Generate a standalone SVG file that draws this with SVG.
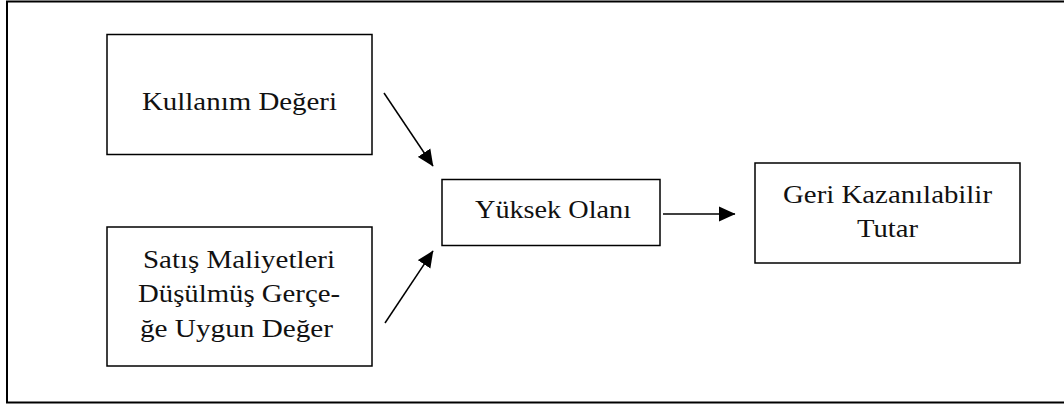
<svg xmlns="http://www.w3.org/2000/svg" width="1064" height="408" viewBox="0 0 1064 408">
<style>
.frame{fill:none;stroke:#000;stroke-width:2}
.box{fill:#fff;stroke:#000;stroke-width:1.5}
.t{font-family:"Liberation Serif","DejaVu Serif",serif;font-size:25px;fill:#111;text-anchor:middle}
.c{stroke:#000;stroke-width:1.5;fill:none;marker-end:url(#ah)}
</style>
<defs>
<marker id="ah" markerWidth="17" markerHeight="16" refX="16" refY="8" orient="auto" markerUnits="userSpaceOnUse">
<path d="M0,0.5 L16.5,8 L0,15.5 Z" fill="#000"/>
</marker>
</defs>
<rect width="1064" height="408" fill="#fff"/>
<rect class="frame" x="7" y="1.5" width="1062" height="401"/>
<g id="kullanim">
<rect class="box" x="107" y="34.5" width="265" height="120"/>
<text class="t" x="239.5" y="110" textLength="195" lengthAdjust="spacingAndGlyphs">Kullanım Değeri</text>
</g>
<g id="satis">
<rect class="box" x="107" y="227" width="265" height="139"/>
<text class="t" x="239" y="268" textLength="192" lengthAdjust="spacingAndGlyphs">Satış Maliyetleri</text>
<text class="t" x="239" y="302" textLength="202" lengthAdjust="spacingAndGlyphs">Düşülmüş Gerçe-</text>
<text class="t" x="236.5" y="337" textLength="193" lengthAdjust="spacingAndGlyphs">ğe Uygun Değer</text>
</g>
<g id="yuksek">
<rect class="box" x="442" y="179.5" width="218" height="66"/>
<text class="t" x="553" y="218" textLength="156" lengthAdjust="spacingAndGlyphs">Yüksek Olanı</text>
</g>
<g id="geri">
<rect class="box" x="755" y="163" width="265" height="100"/>
<text class="t" x="887.5" y="203" textLength="209" lengthAdjust="spacingAndGlyphs">Geri Kazanılabilir</text>
<text class="t" x="887.5" y="237" textLength="61" lengthAdjust="spacingAndGlyphs">Tutar</text>
</g>
<g id="connectors">
<line class="c" x1="384" y1="93" x2="433" y2="166"/>
<line class="c" x1="385" y1="323" x2="433" y2="251"/>
<line class="c" x1="663" y1="214" x2="735" y2="214"/>
</g>
</svg>
